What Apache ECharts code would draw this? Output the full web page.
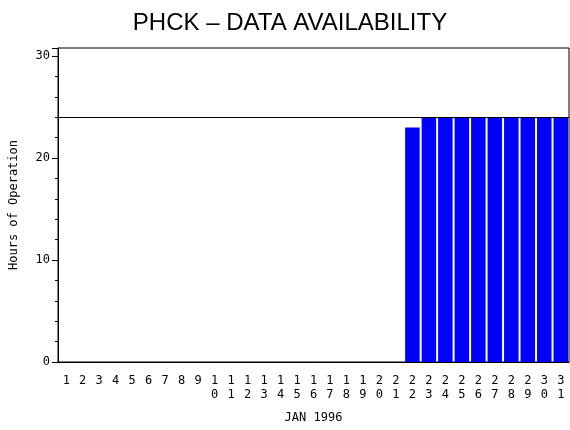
<!DOCTYPE html>
<html><head><meta charset="utf-8">
<script src="https://cdn.jsdelivr.net/npm/echarts@6/dist/echarts.min.js"></script>
<style>html,body{margin:0;padding:0;background:#fff}#c{width:570px;height:430px}</style>
</head><body><div id="c"></div>
<script>
var days = [];
for (var d = 1; d <= 31; d++) days.push(String(d));
var hours = [0,0,0,0,0,0,0,0,0,0,0,0,0,0,0,0,0,0,0,0,0,23,24,24,24,24,24,24,24,24,24];
var yTicks = [0,10,20,30];
var refLine = 24;
var chart = echarts.init(document.getElementById('c'));
var F = 'DejaVu Sans Mono';
chart.setOption({
  animation:false,
  title:{text:'PHCK – DATA AVAILABILITY',left:285,textAlign:'center',top:6,
    textStyle:{fontFamily:'Liberation Sans',fontSize:24,fontWeight:'normal',color:'#000'}},
  grid:{left:58,right:1,top:48,bottom:68},
  xAxis:{type:'category',data:days,name:'JAN 1996',nameLocation:'middle',nameGap:50,
    nameTextStyle:{fontFamily:F,fontSize:12,color:'#000'},
    axisLine:{lineStyle:{color:'#000'}},axisTick:{show:false},
    axisLabel:{interval:0,fontFamily:F,fontSize:12,color:'#000',lineHeight:14,margin:12,
      formatter:function(v){return v.split('').join('\n');}}},
  yAxis:{type:'value',min:0,max:30.8,interval:10,name:'Hours of Operation',nameLocation:'middle',nameGap:38,
    nameTextStyle:{fontFamily:F,fontSize:12,color:'#000'},
    axisLine:{show:true,lineStyle:{color:'#000'}},
    axisTick:{show:true,inside:false,length:6,lineStyle:{color:'#000'}},
    minorTick:{show:true,splitNumber:5,length:3,lineStyle:{color:'#000'}},
    splitLine:{show:false},
    axisLabel:{fontFamily:F,fontSize:12,color:'#000',
      formatter:function(v){return yTicks.indexOf(v)>=0?String(v):'';}}},
  series:[{type:'bar',data:hours,barCategoryGap:'12%',itemStyle:{color:'#0000ff'},
    markLine:{symbol:'none',silent:true,label:{show:false},lineStyle:{color:'#000',type:'solid',width:1},
      data:[{yAxis:refLine}]}},
    {type:'line',data:[],markArea:{silent:true,itemStyle:{color:'transparent',borderColor:'#000',borderWidth:1},
      data:[[{x:58,y:48},{x:569,y:362}]]}}]
});
</script></body></html>
